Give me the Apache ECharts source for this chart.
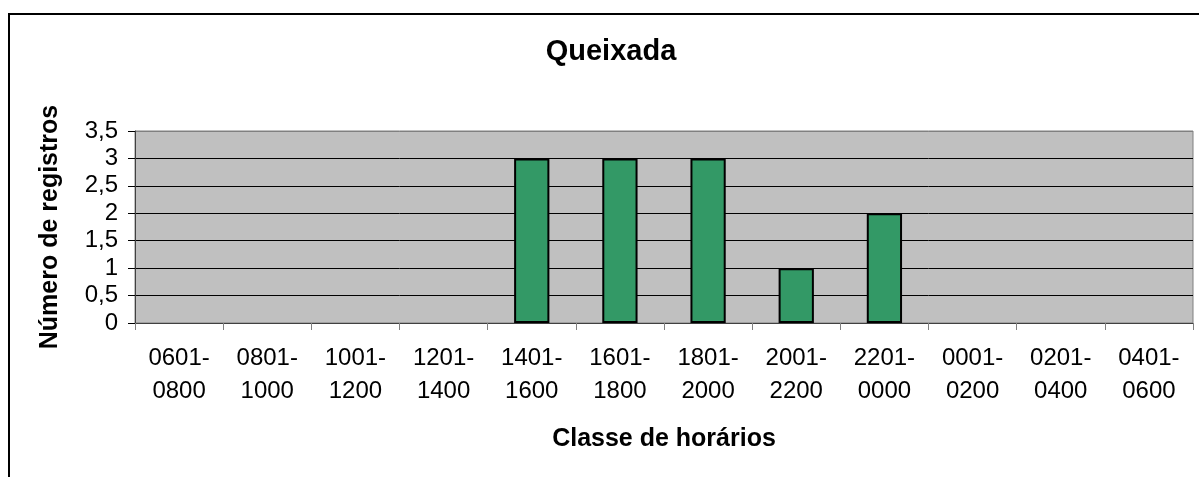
<!DOCTYPE html>
<html>
<head>
<meta charset="utf-8">
<script src="https://cdn.jsdelivr.net/npm/echarts@6/dist/echarts.min.js"></script>
<style>
  html, body { margin: 0; padding: 0; background: #ffffff; }
  #queixada { width: 1199px; height: 477px; }
</style>
</head>
<body>
<div id="queixada"></div>
<script>
// classes de horários e número de registros
var classes = ["0601-\n0800", "0801-\n1000", "1001-\n1200", "1201-\n1400", "1401-\n1600", "1601-\n1800",
  "1801-\n2000", "2001-\n2200", "2201-\n0000", "0001-\n0200", "0201-\n0400", "0401-\n0600"];
var registros = [0, 0, 0, 0, 3, 3, 3, 1, 2, 0, 0, 0];
var yTicks = [0, 0.5, 1, 1.5, 2, 2.5, 3, 3.5];

var fonte = "'Liberation Sans', Arial, sans-serif";
var myChart = echarts.init(document.getElementById("queixada"));

// barras com valor zero ficam sem contorno (como no Excel)
var barData = registros.map(function (v) {
  return v === 0 ? { value: v, itemStyle: { borderWidth: 0 } } : v;
});

var option = {
  backgroundColor: "#ffffff",
  animation: false,
  graphic: [
    {
      type: "rect",
      shape: { x: 9, y: 14, width: 1300, height: 600 },
      style: { fill: "none", stroke: "#000", lineWidth: 2 },
      silent: true
    },
    {
      type: "text",
      x: 611,
      y: 52,
      style: {
        text: "Queixada",
        font: "bold 29px " + fonte,
        fill: "#000",
        align: "center",
        verticalAlign: "middle"
      }
    }
  ],
  grid: {
    left: 135,
    top: 131,
    right: 6,
    bottom: 154,
    show: true,
    backgroundColor: "#c0c0c0",
    borderColor: "#808080",
    borderWidth: 1
  },
  xAxis: {
    type: "category",
    data: classes,
    name: "Classe de horários",
    nameLocation: "middle",
    nameGap: 104,
    nameTextStyle: { fontFamily: fonte, fontWeight: "bold", fontSize: 25, color: "#000" },
    axisLine: { show: true, lineStyle: { color: "#404040", width: 1 } },
    axisTick: { show: true, alignWithLabel: false, length: 7, lineStyle: { color: "#808080" } },
    axisLabel: {
      interval: 0,
      margin: 19,
      fontFamily: fonte,
      fontSize: 24,
      lineHeight: 33,
      color: "#000"
    }
  },
  yAxis: {
    type: "value",
    min: 0,
    max: 3.5,
    interval: 0.5,
    name: "Número de registros",
    nameLocation: "middle",
    nameRotate: 90,
    nameGap: 72,
    nameTextStyle: { fontFamily: fonte, fontWeight: "bold", fontSize: 25, color: "#000" },
    axisLine: { show: true, lineStyle: { color: "#404040", width: 1 } },
    axisTick: { show: true, length: 7, lineStyle: { color: "#000" } },
    axisLabel: {
      margin: 17,
      fontFamily: fonte,
      fontSize: 24,
      color: "#000",
      formatter: function (v) {
        return yTicks.indexOf(v) >= 0 ? String(v).replace(".", ",") : "";
      }
    },
    splitLine: {
      show: true,
      lineStyle: { color: ["#000", "#000", "#000", "#000", "#000", "#000", "#000", "#808080"], width: 1 }
    }
  },
  series: [
    {
      name: "Queixada",
      type: "bar",
      data: barData,
      barWidth: "40%",
      itemStyle: { color: "#339966", borderColor: "#000", borderWidth: 2 }
    }
  ]
};

myChart.setOption(option);
</script>
</body>
</html>
